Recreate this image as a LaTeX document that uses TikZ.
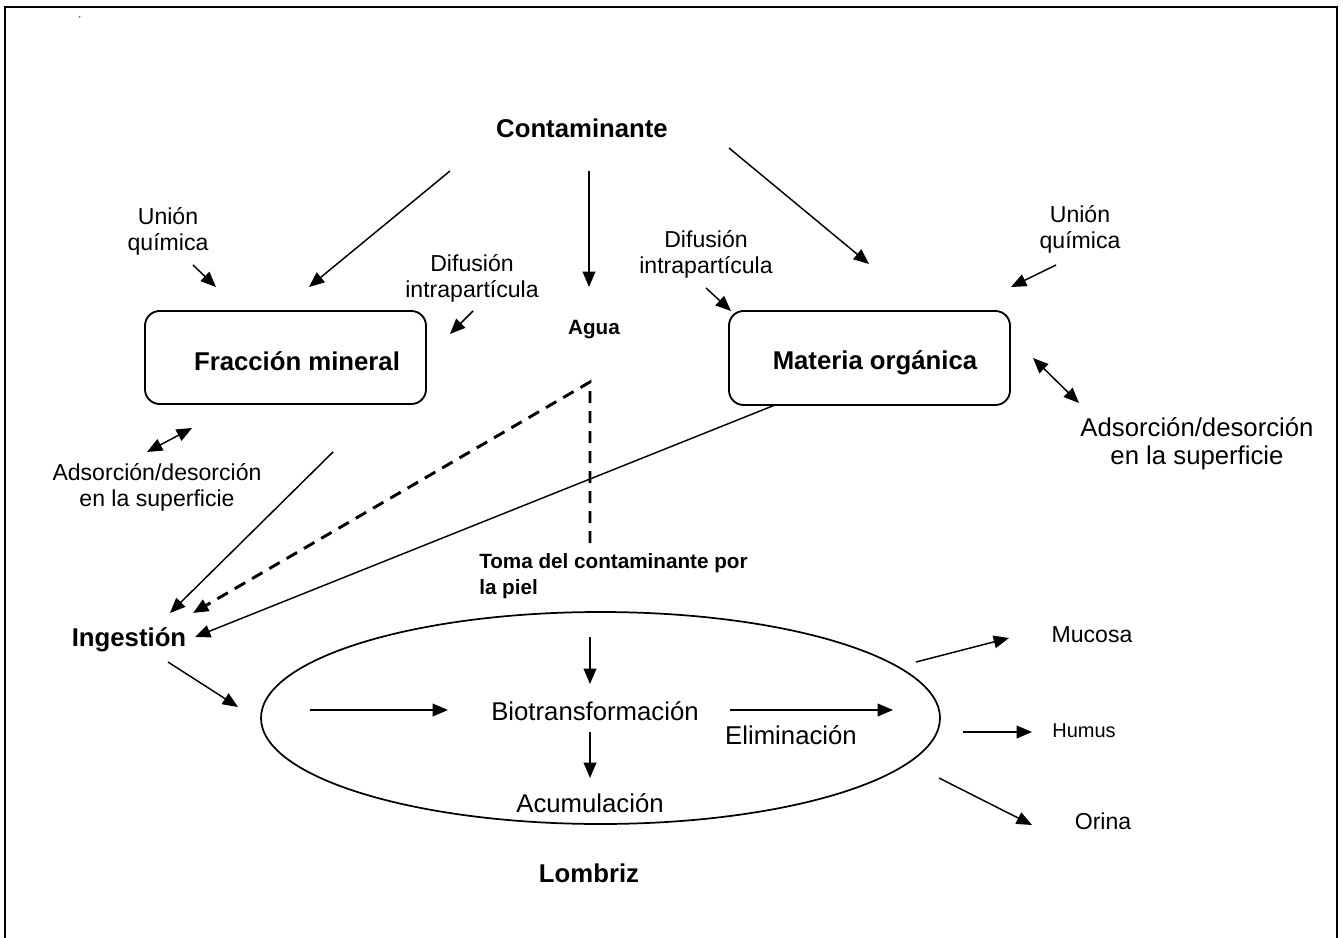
\documentclass[tikz,border=0pt]{standalone}
\usepackage{fontspec}
\setmainfont{Liberation Sans}
\usetikzlibrary{arrows.meta}
\begin{document}
\begin{tikzpicture}[x=0.75pt,y=-0.75pt,
  txt/.style={inner sep=0pt, align=center, font=\fontsize{17.3}{19.5}\selectfont},
  txtbig/.style={inner sep=0pt, align=center, font=\fontsize{19.3}{21}\selectfont},
  bold/.style={inner sep=0pt, align=center, font=\bfseries\fontsize{19.3}{23}\selectfont},
  boldsm/.style={inner sep=0pt, align=left, font=\bfseries\fontsize{15.5}{19}\selectfont},
  tip/.style={-{Triangle[length=11.5pt,width=9.5pt]}},
  arr/.style={tip, line width=1.1pt},
  darr/.style={{Triangle[length=11.5pt,width=9.5pt]}-{Triangle[length=11.5pt,width=9.5pt]}, line width=1.1pt},
  dasharr/.style={tip, line width=2.2pt, dash pattern=on 9pt off 6pt},
  box/.style={draw, line width=1.4pt, rounded corners=11pt}]
\useasboundingbox (0,0) rectangle (1343,938);
% frame
\draw[line width=1.5pt] (5,938) -- (5,7) -- (1337,7) -- (1337,938);
\node[inner sep=0pt, font=\fontsize{8}{8}\selectfont] (mark) at (80,21) {´};

% texts
\node[bold] (cont) at (582,128) {Contaminante};
\node[txt] (uq1) at (168,231) {Unión\\química};
\node[txt] (di1) at (472,278) {Difusión\\intrapartícula};
\node[txt] (di2) at (706,254) {Difusión\\intrapartícula};
\node[txt] (uq2) at (1080,229) {Unión\\química};
\node[boldsm] (agua) at (594,330) {Agua};
\node[box, minimum width=210.75pt, minimum height=69.75pt] (fmbox) at (285.5,357.5) {};
\node[bold] (fm) at (297,361) {Fracción mineral};
\node[box, minimum width=210.75pt, minimum height=70.5pt] (mobox) at (869.5,358) {};
\node[bold] (mo) at (875,363) {Materia orgánica};
\node[txtbig] (ad2) at (1197,444) {Adsorción/desorción\\en la superficie};
\node[txt] (ad1) at (157,487) {Adsorción/desorción\\en la superficie};
\node[boldsm, anchor=west] (toma) at (479,576) {Toma del contaminante por\\la piel};
\node[bold] (ing) at (129,640) {Ingestión};
\draw[line width=1.3pt] (600.5,718) ellipse [x radius=339.5, y radius=106];
\node[txtbig] (bio) at (595,711) {Biotransformación};
\node[txtbig] (acu) at (590,803) {Acumulación};
\node[txtbig] (eli) at (791,735) {Eliminación};
\node[bold] (lomb) at (589,873) {Lombriz};
\node[txt] (muc) at (1092,635) {Mucosa};
\node[inner sep=0pt, font=\fontsize{15}{17}\selectfont] (hum) at (1084,731) {Humus};
\node[txt] (ori) at (1103,821) {Orina};

% coordinates
\coordinate (c1s) at (450,171); \coordinate (c1e) at (309,287);
\coordinate (c2s) at (589,171); \coordinate (c2e) at (589,287);
\coordinate (c3s) at (729,148); \coordinate (c3e) at (869,264);
\coordinate (u1s) at (193,265); \coordinate (u1e) at (216,287);
\coordinate (d1s) at (473,311); \coordinate (d1e) at (450,334);
\coordinate (d2s) at (706,288); \coordinate (d2e) at (731,311);
\coordinate (u2s) at (1056,265); \coordinate (u2e) at (1011,287);
\coordinate (a2s) at (1033,358); \coordinate (a2e) at (1079,403);
\coordinate (a1s) at (147,452); \coordinate (a1e) at (192,428);
\coordinate (fmS) at (333,452); \coordinate (fmE) at (170,613);
\coordinate (wS) at (590,543); \coordinate (wK) at (590,382); \coordinate (wE) at (193,613);
\coordinate (moS) at (775,405); \coordinate (moE) at (195,637);
\coordinate (inS) at (168,662); \coordinate (inE) at (238,707);
\coordinate (h1s) at (310,710); \coordinate (h1e) at (448,710);
\coordinate (v1s) at (590,637); \coordinate (v1e) at (590,684);
\coordinate (v2s) at (590,732); \coordinate (v2e) at (590,778);
\coordinate (h2s) at (730,710); \coordinate (h2e) at (893,710);
\coordinate (mS) at (916,662); \coordinate (mE) at (1009,638);
\coordinate (hS) at (963,732); \coordinate (hE) at (1032,732);
\coordinate (oS) at (939,778); \coordinate (oE) at (1032,825);

% connectors
\draw[arr] (c1s) -- (c1e);
\draw[arr] (c2s) -- (c2e);
\draw[arr] (c3s) -- (c3e);
\draw[arr] (u1s) -- (u1e);
\draw[arr] (d1s) -- (d1e);
\draw[arr] (d2s) -- (d2e);
\draw[arr] (u2s) -- (u2e);
\draw[darr] (a2s) -- (a2e);
\draw[darr] (a1s) -- (a1e);
\draw[arr] (fmS) -- (fmE);
\draw[dasharr] (wS) -- (wK) -- (wE);
\draw[arr] (moS) -- (moE);
\draw[arr] (inS) -- (inE);
\draw[arr] (h1s) -- (h1e);
\draw[arr] (v1s) -- (v1e);
\draw[arr] (v2s) -- (v2e);
\draw[arr] (h2s) -- (h2e);
\draw[arr] (mS) -- (mE);
\draw[arr] (hS) -- (hE);
\draw[arr] (oS) -- (oE);
\end{tikzpicture}
\end{document}
